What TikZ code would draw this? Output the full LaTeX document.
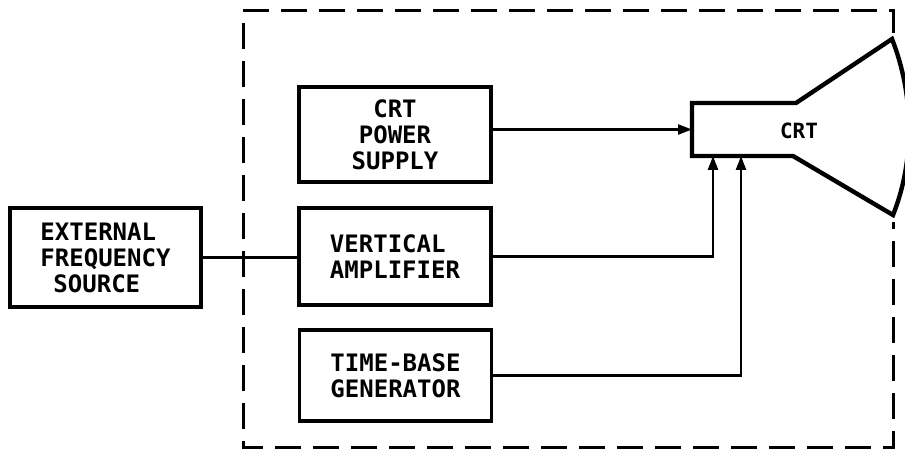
\documentclass[tikz,border=0pt]{standalone}
\usepackage{fontspec}
\setmonofont{DejaVu Sans Mono}
\usetikzlibrary{
    arrows.meta,
    positioning,
    calc
}
\tikzset{
    % Base style for all blocks
    block/.style={
        rectangle,
        draw=black,
        line width=3.2pt,
        font=\ttfamily\bfseries\fontsize{24}{26}\selectfont,
        inner sep=0pt,
        minimum width=192pt,
    },
    % Signal arrow into the tube
    arrow/.style={
        -{Triangle[length=14pt, width=10pt]},
        line width=2.4pt,
    },
    % Plain signal wire
    wire/.style={
        line width=2.4pt,
    },
    % Dashed outline of the scope
    enclosure/.style={
        dash pattern=on 26pt off 12pt,
        line width=3pt,
    },
    % Tube outline
    tube/.style={
        line width=4.4pt,
        line join=miter,
    },
}
\begin{document}
\begin{tikzpicture}[x=1pt, y=-1pt]
    \useasboundingbox (0,0) rectangle (905,449);

    \node (ext) [block, align=left, minimum width=191pt, minimum height=99pt] at (105.5,257.5) {EXTERNAL\\FREQUENCY\\\hspace*{13pt}SOURCE};
    \node (ps) [block, align=center, minimum height=95pt] at (395,134.5) {CRT\\POWER\\SUPPLY};
    \node (vamp) [block, align=left, minimum height=97pt] at (395,256.5) {VERTICAL\\AMPLIFIER};
    \node (tbase) [block, align=left, minimum height=91pt] at (395.5,375.5) {TIME-BASE\\GENERATOR};

    % neck of the tube
    \node (neck) [minimum width=104pt, minimum height=53pt, inner sep=0pt, outer sep=0pt] at (744,129.5) {};
    \node (crt) [font=\ttfamily\bfseries\fontsize{21}{24}\selectfont] at (799,131) {CRT};

    \draw [tube] (neck.south west) -- (neck.north west) -- (neck.north east)
        -- (892,39) .. controls (914,95) and (915,160) .. (893,215)
        -- ([xshift=-3pt]neck.south east) -- cycle;

    \draw [enclosure] (893,33) -- (893,11) -- (243,11) -- (243,447) -- (893,447) -- (893,222);

    \draw [wire] (ext.east) -- (ext.east -| vamp.west);
    \draw [arrow] (ps.east |- neck.west) -- (neck.west);
    \draw [arrow] (vamp.east) -| ([xshift=-31pt]neck.south);
    \draw [arrow] (tbase.east) -| ([xshift=-3pt]neck.south);
\end{tikzpicture}
\end{document}
